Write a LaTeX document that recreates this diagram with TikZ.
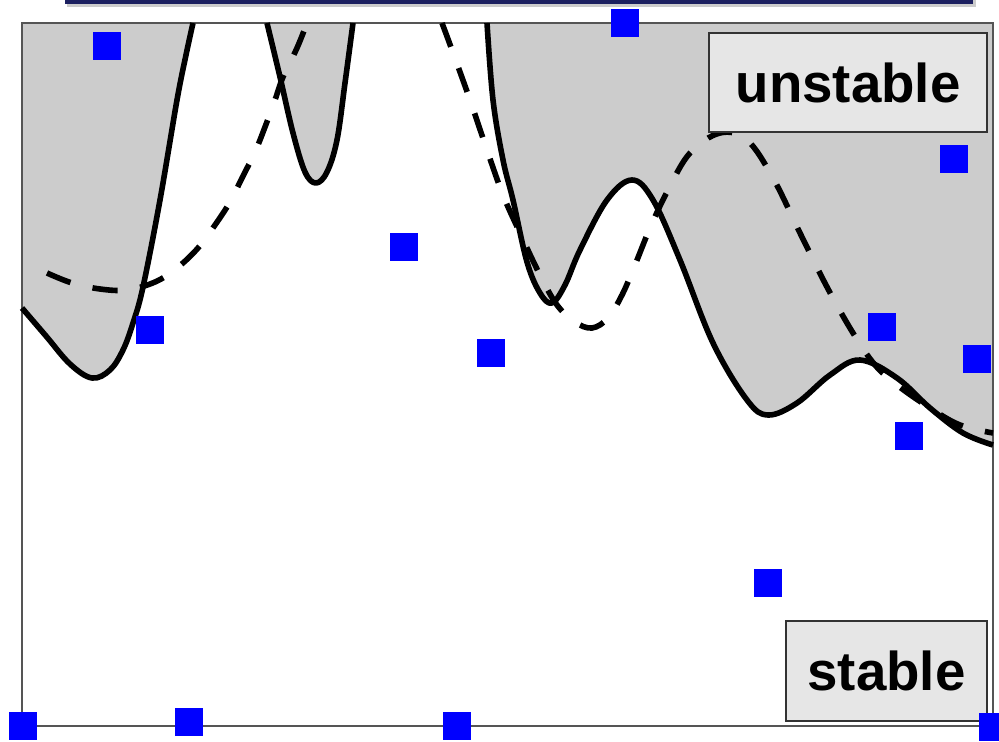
\documentclass[tikz,border=0pt]{standalone}
\usepackage{fontspec}
\setmainfont{Liberation Sans}
\definecolor{regiongray}{HTML}{CCCCCC}
\definecolor{boxfill}{HTML}{E6E6E6}
\definecolor{barnavy}{HTML}{1C2060}
\definecolor{framec}{HTML}{555555}
\tikzset{
  sq/.style={fill=blue, inner sep=0pt, minimum size=20.5pt, draw=none},
  lbl/.style={fill=boxfill, draw=black!80, line width=1.1pt, inner sep=0pt,
    font=\fontsize{41}{49}\selectfont\bfseries},
  solidc/.style={line width=4.2pt, line join=round},
  dashc/.style={line width=4.2pt, dash pattern=on 19pt off 17pt},
}
\begin{document}
\begin{tikzpicture}[x=0.75pt,y=-0.75pt]
\useasboundingbox (0,0) rectangle (999,742);
\fill[white] (0,0) rectangle (999,742);
% top bar with shadow
\fill[black!20] (67,0) rectangle (976,7);
\fill[barnavy] (65,-10) rectangle (973,3.6);
% shaded regions
\fill[regiongray] (22,23) -- (22,308) -- plot[smooth,tension=0.6] coordinates {(22,308) (46,336) (70,364) (92,378) (110,370) (123,350) (133,323) (143,287) (160,200) (177,100) (186,55) (193,23)} -- cycle;
\fill[regiongray] plot[smooth,tension=0.6] coordinates {(267,23) (280,77) (293,133) (305,172) (316,183) (327,172) (337,140) (345,83) (353,23)} -- cycle;
\fill[regiongray] (993,23) -- plot[smooth,tension=0.6] coordinates {(487,23) (493,100) (503,160) (513,200) (527,262) (540,293) (552,303) (565,285) (580,250) (607,200) (632,180) (653,200) (680,260) (713,343) (747,400) (768,415) (797,403) (830,375) (860,360) (897,378) (930,408) (963,433) (993,445)} -- cycle;
% frame
\draw[framec, line width=1.5pt] (22,23) rectangle (993,726);
% solid boundary
\draw[solidc] plot[smooth,tension=0.6] coordinates {(22,308) (46,336) (70,364) (92,378) (110,370) (123,350) (133,323) (143,287) (160,200) (177,100) (186,55) (193,23)};
\draw[solidc] plot[smooth,tension=0.6] coordinates {(267,23) (280,77) (293,133) (305,172) (316,183) (327,172) (337,140) (345,83) (353,23)};
\draw[solidc] plot[smooth,tension=0.6] coordinates {(487,23) (493,100) (503,160) (513,200) (527,262) (540,293) (552,303) (565,285) (580,250) (607,200) (632,180) (653,200) (680,260) (713,343) (747,400) (768,415) (797,403) (830,375) (860,360) (897,378) (930,408) (963,433) (993,445)};
% dashed boundary
\draw[dashc] plot[smooth,tension=0.6] coordinates {(47,273) (72,283) (100,289) (127,290) (155,282) (177,268) (198,248) (215,225) (230,202) (242,178) (255,152) (265,127) (275,100) (283,77) (297,48) (307,23)};
\draw[dashc] plot[smooth,tension=0.6] coordinates {(442,23) (452,50) (470,100) (488,153) (503,195) (520,233) (540,275) (557,305) (575,322) (592,328) (608,318) (622,295) (635,265) (650,228) (668,190) (690,153) (720,133) (747,140) (773,178) (800,233) (827,287) (853,333) (875,365) (897,385) (930,408) (960,425) (993,433)};
% labels
\node[lbl, minimum width=208.5pt, minimum height=74.25pt] (unst) at (848,82.5) {unstable};
\node[lbl, minimum width=150.75pt, minimum height=75pt] (stab) at (886.5,671) {stable};
% sample points
\node[sq] (p1) at (107,46) {};
\node[sq] (p2) at (150,330) {};
\node[sq] (p3) at (404,247) {};
\node[sq] (p4) at (491,353) {};
\node[sq] (p5) at (625,23) {};
\node[sq] (p6) at (954,159) {};
\node[sq] (p7) at (882,327) {};
\node[sq] (p8) at (977,359) {};
\node[sq] (p9) at (909,436) {};
\node[sq] (p10) at (768,583) {};
\node[sq] (p11) at (993,727) {};
\node[sq] (p12) at (23,726) {};
\node[sq] (p13) at (189,722) {};
\node[sq] (p14) at (457,726) {};
\end{tikzpicture}
\end{document}
